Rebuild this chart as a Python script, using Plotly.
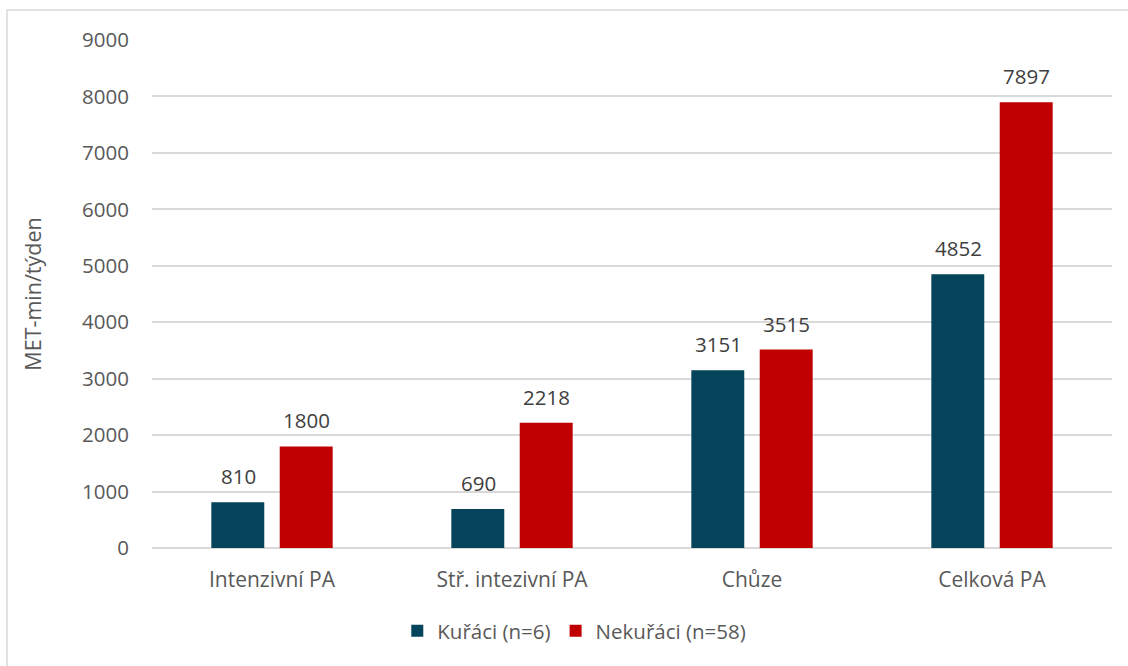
import plotly.graph_objects as go

categories = ["Intenzivní PA", "Stř. intezivní PA", "Chůze", "Celková PA"]
smokers = [810, 690, 3151, 4852]
nonsmokers = [1800, 2218, 3515, 7897]
series_names = ["Kuřáci (n=6)", "Nekuřáci (n=58)"]
y_ticks = list(range(0, 9001, 1000))

TEAL = "#05445A"
RED = "#C00000"
FONT = "Open Sans, Noto Sans, sans-serif"
GREY = "#595959"

fig = go.Figure()
fig.add_trace(go.Bar(name=series_names[0], x=categories, y=smokers,
                     marker=dict(color=TEAL, line=dict(width=0))))
fig.add_trace(go.Bar(name=series_names[1], x=categories, y=nonsmokers,
                     marker=dict(color=RED, line=dict(width=0))))

# value labels above each bar
for vals, shift in ((smokers, -34), (nonsmokers, 34)):
    for cat, v in zip(categories, vals):
        fig.add_annotation(x=cat, y=v, text=str(v), showarrow=False,
                           xshift=shift, yshift=26,
                           font=dict(family=FONT, size=20.5, color="#404040"))

# outer chart frame
fig.add_shape(type="rect", xref="paper", yref="paper",
              x0=(7 - 152) / 960, x1=1.1, y0=-0.5, y1=(548 - 10) / 508,
              line=dict(color="#D9D9D9", width=1.5), fillcolor="rgba(0,0,0,0)",
              layer="below")

fig.update_layout(
    width=1128, height=666,
    margin=dict(l=152, r=16, t=40, b=118),
    paper_bgcolor="white", plot_bgcolor="white",
    barmode="group", bargap=0.43, bargroupgap=0.226,
    font=dict(family=FONT, size=20, color=GREY),
    showlegend=True,
    legend=dict(orientation="h", x=0.2555, xanchor="left", y=-0.163, yanchor="middle",
                font=dict(family=FONT, size=20.5, color=GREY),
                itemwidth=30, traceorder="normal"),
)
fig.update_xaxes(showgrid=False, showline=False, ticks="",
                 tickfont=dict(family=FONT, size=21, color=GREY),
                 ticklabelstandoff=17)
fig.update_yaxes(range=[0, 9000], tickvals=y_ticks, showgrid=True,
                 gridcolor="#D9D9D9", gridwidth=1.5, zeroline=True,
                 zerolinecolor="#D9D9D9", zerolinewidth=1.5, showline=False,
                 tickfont=dict(family=FONT, size=20.5, color=GREY),
                 ticklabelstandoff=22,
                 title=dict(text="MET-min/týden", standoff=34,
                            font=dict(family=FONT, size=21.5, color=GREY)))

fig.write_html("out.html")
